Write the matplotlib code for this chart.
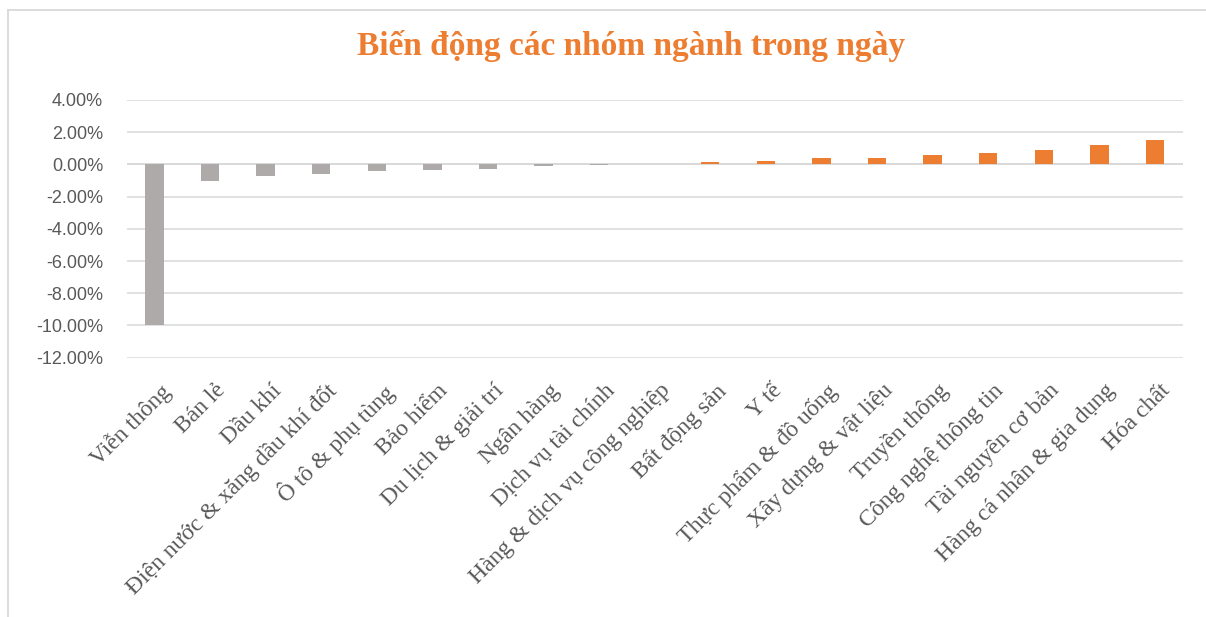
import matplotlib
matplotlib.use("Agg")
import matplotlib.pyplot as plt
from matplotlib.lines import Line2D
from matplotlib.transforms import ScaledTranslation
from matplotlib.ticker import FuncFormatter

# data (percent change in the day)
sectors = [
    "Viễn thông", "Bán lẻ", "Dầu khí", "Điện nước & xăng dầu khí đốt",
    "Ô tô & phụ tùng", "Bảo hiểm", "Du lịch & giải trí", "Ngân hàng",
    "Dịch vụ tài chính", "Hàng & dịch vụ công nghiệp", "Bất động sản", "Y tế",
    "Thực phẩm & đồ uống", "Xây dựng & vật liệu", "Truyền thông",
    "Công nghệ thông tin", "Tài nguyên cơ bản", "Hàng cá nhân & gia dụng",
    "Hóa chất",
]
changes = [
    -10.00, -1.03, -0.74, -0.59,
    -0.41, -0.35, -0.29, -0.08,
    -0.01, 0.0, 0.12, 0.20,
    0.41, 0.40, 0.57,
    0.68, 0.91, 1.19,
    1.54,
]
y_ticks = [4, 2, 0, -2, -4, -6, -8, -10, -12]

GRAY = "#AEAAAA"
ORANGE = "#ED7D31"
GRID = "#D9D9D9"
TEXT = "#595959"

W, H = 1206, 617
fig = plt.figure(figsize=(W / 100, H / 100), dpi=100)
ax = fig.add_axes([126.7 / W, 1 - 357.7 / H, (1182.7 - 126.7) / W, (357.7 - 100) / H])

colors = [GRAY if v < 0 else ORANGE for v in changes]
x = list(range(len(sectors)))
ax.bar(x, changes, width=0.33, color=colors, zorder=3)

ax.set_xlim(-0.5, len(sectors) - 0.5)
ax.set_ylim(-12, 4)
ax.set_yticks(y_ticks)
ax.yaxis.set_major_formatter(FuncFormatter(lambda v, p: f"{v:.2f}%"))
ax.grid(axis="y", color=GRID, linewidth=1.1, zorder=0)
ax.axhline(0, color=GRID, linewidth=1.3, zorder=2)
for s in ax.spines.values():
    s.set_visible(False)
ax.tick_params(axis="both", length=0)
ax.tick_params(axis="y", pad=17, labelsize=13, labelcolor=TEXT)
for lab in ax.get_yticklabels():
    lab.set_family("Liberation Sans")

ax.set_xticks(x)
ax.set_xticklabels(sectors, rotation=45, ha="right", va="top",
                   rotation_mode="anchor", fontsize=17,
                   family="Liberation Serif", color=TEXT)
ax.tick_params(axis="x", pad=16)
shift = ScaledTranslation(5 / 100, 0, fig.dpi_scale_trans)
for lab in ax.get_xticklabels():
    lab.set_transform(lab.get_transform() + shift)

fig.text(631 / W, 1 - 46 / H, "Biến động các nhóm ngành trong ngày",
         ha="center", va="center", fontsize=24, fontweight="bold",
         family="Liberation Serif", color=ORANGE)

# chart area border (top and left edges visible)
fig.add_artist(Line2D([7.5 / W, 1], [1 - 10 / H, 1 - 10 / H], color=GRID, linewidth=1.3))
fig.add_artist(Line2D([7.5 / W, 7.5 / W], [0, 1 - 10 / H], color=GRID, linewidth=1.3))

fig.savefig("out.png", dpi=100)
